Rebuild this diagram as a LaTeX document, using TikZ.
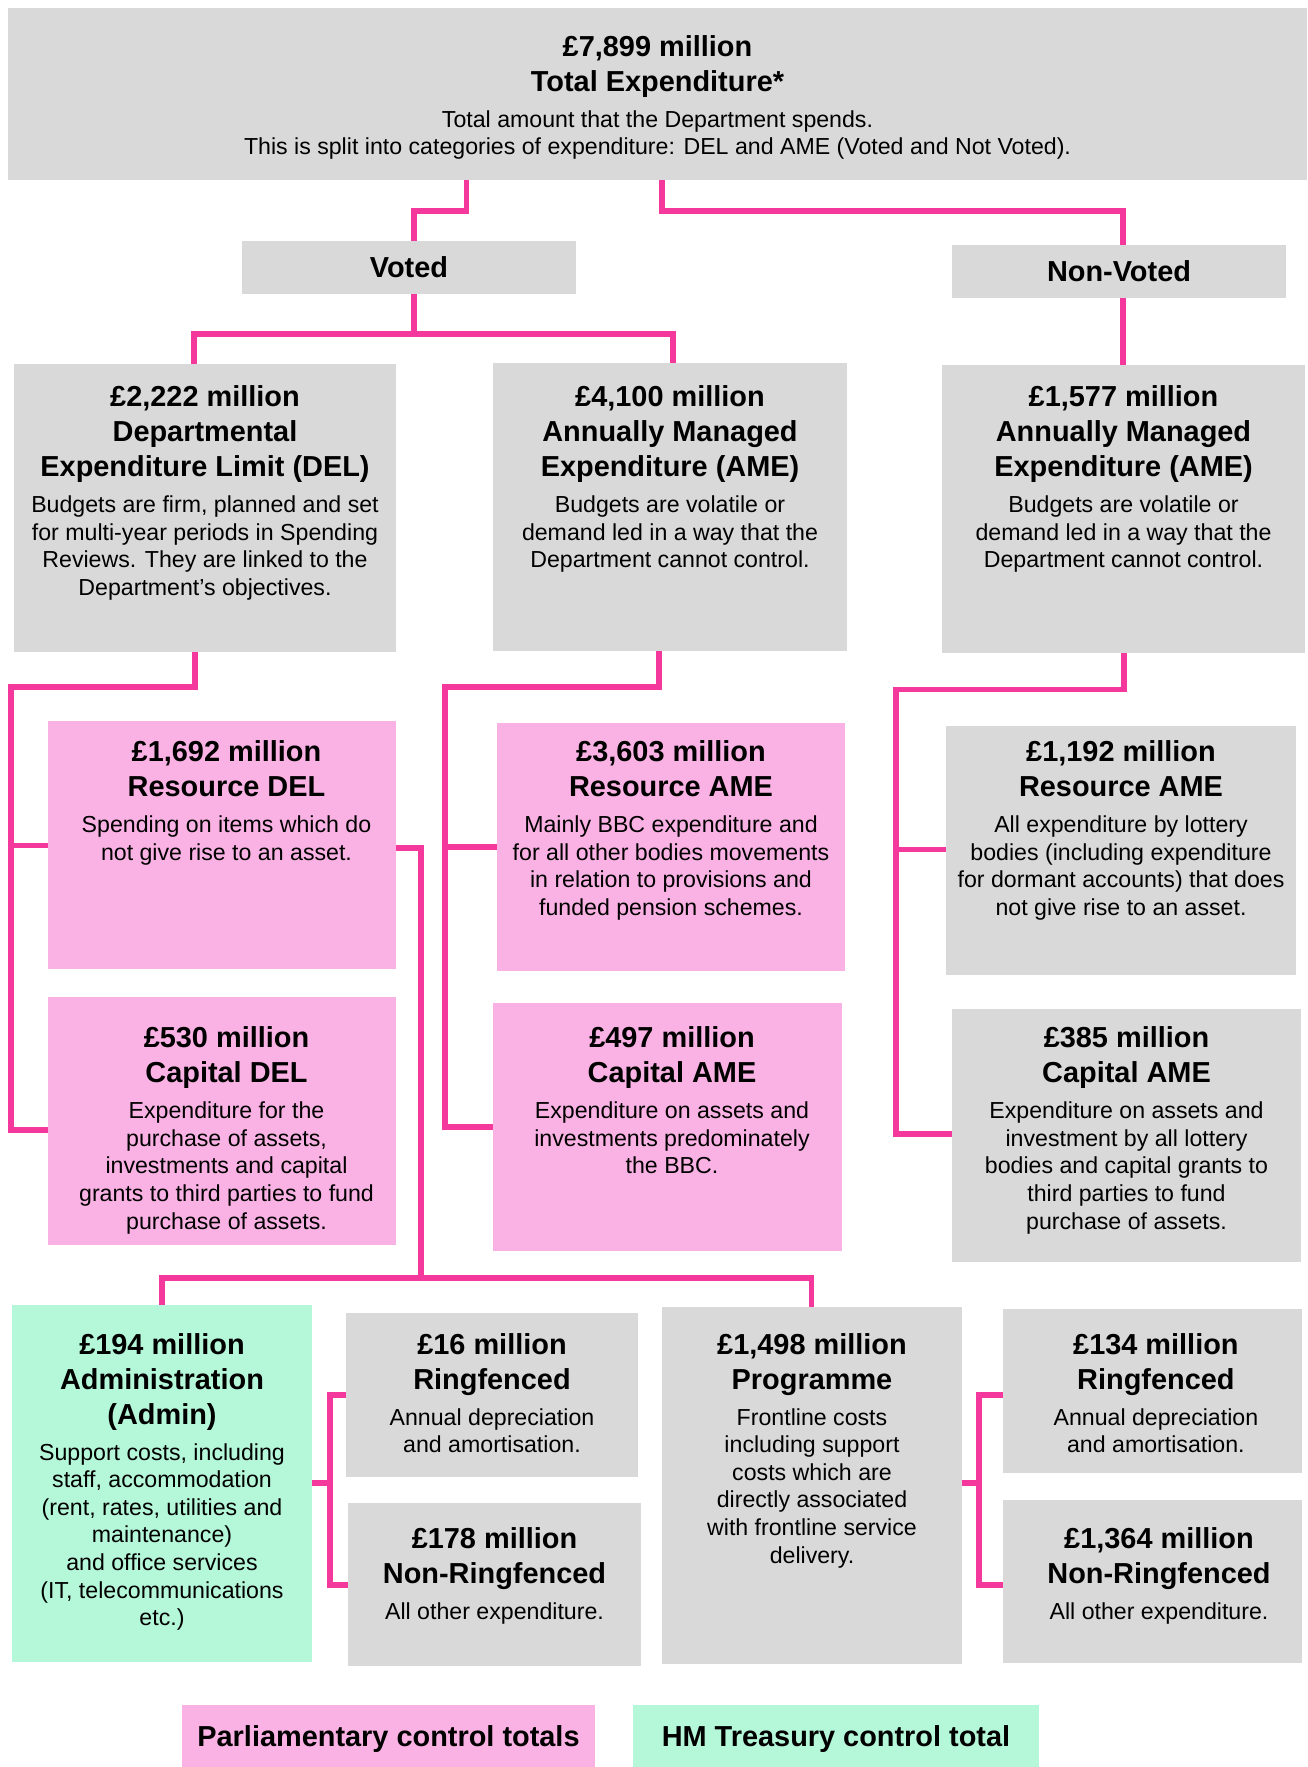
\documentclass[tikz,border=0pt]{standalone}
\usepackage{fontspec}
\setmainfont{Liberation Sans}
\definecolor{greyc}{RGB}{217,217,217}
\definecolor{pinkc}{RGB}{250,178,228}
\definecolor{mintc}{RGB}{181,247,217}
\definecolor{linec}{RGB}{245,56,155}
\newcommand\titlefont{\fontsize{28.9pt}{35pt}\selectfont\bfseries}
\newcommand\bodyfont{\fontsize{23.15pt}{27.6pt}\selectfont\mdseries}
\newcommand\txs{0pt}
\tikzset{
  boxst/.style={inner sep=0pt, outer sep=0pt, draw=none},
  conn/.style={draw=linec, line width=5.8pt, line join=miter},
  onebox/.style={boxst, anchor=north west, font=\titlefont, text height=20.6pt, text depth=0pt}
}
% name, x1, y1, x2, y2, fill, first baseline, title, body
\newcommand\tbox[9]{%
  \node[boxst, fill=#6, anchor=north west] (#1) at (#2,#3)
  {\parbox[t][\dimexpr#5pt-#3pt\relax][t]{\dimexpr#4pt-#2pt\relax}{%
    \lineskiplimit=-1000pt
    \vspace*{\dimexpr#7pt-#3pt-22pt\relax}%
    \centering\leftskip=\dimexpr\txs*2\relax plus 1fil\relax
    \titlefont\rule{0pt}{22pt}#8\par
    \vspace{8.4pt}%
    \bodyfont #9\par}};}
\begin{document}
\begin{tikzpicture}[x=1pt,y=-1pt]
\useasboundingbox (0,0) rectangle (1307,1767);
% ---- boxes
\tbox{top}{8}{8}{1307}{180}{greyc}{56}{£7,899 million\\Total Expenditure*}{Total amount that the Department spends.\\This is split into categories of expenditure: DEL and AME (Voted and Not Voted).}
\node[onebox, fill=greyc, minimum width=334pt, minimum height=53pt] (voted) at (242,241) {Voted};
\node[onebox, fill=greyc, minimum width=334pt, minimum height=53pt] (nonvoted) at (952,245) {Non-Voted};

\tbox{del}{14}{364}{396}{652}{greyc}{406.5}{£2,222 million\\Departmental\\Expenditure Limit (DEL)}{Budgets are firm, planned and set\\for multi-year periods in Spending\\Reviews. They are linked to the\\Department’s objectives.}
\tbox{amev}{493}{363}{847}{651}{greyc}{406.5}{£4,100 million\\Annually Managed\\Expenditure (AME)}{Budgets are volatile or\\demand led in a way that the\\Department cannot control.}
\tbox{amenv}{942}{365}{1305}{653}{greyc}{406.5}{£1,577 million\\Annually Managed\\Expenditure (AME)}{Budgets are volatile or\\demand led in a way that the\\Department cannot control.}

\renewcommand\txs{4.5pt}
\tbox{resdel}{48}{721}{396}{969}{pinkc}{761.5}{£1,692 million\\Resource DEL}{Spending on items which do\\not give rise to an asset.}
\tbox{capdel}{48}{997}{396}{1245}{pinkc}{1047.7}{£530 million\\Capital DEL}{Expenditure for the\\purchase of assets,\\investments and capital\\grants to third parties to fund\\purchase of assets.}
\renewcommand\txs{0pt}
\tbox{resame}{497}{723}{845}{971}{pinkc}{761.5}{£3,603 million\\Resource AME}{Mainly BBC expenditure and\\for all other bodies movements\\in relation to provisions and\\funded pension schemes.}
\renewcommand\txs{4.5pt}
\tbox{capame}{493}{1003}{842}{1251}{pinkc}{1047.7}{£497 million\\Capital AME}{Expenditure on assets and\\investments predominately\\the BBC.}
\renewcommand\txs{0pt}
\tbox{resnv}{946}{726}{1296}{975}{greyc}{761.5}{£1,192 million\\Resource AME}{All expenditure by lottery\\bodies (including expenditure\\for dormant accounts) that does\\not give rise to an asset.}
\tbox{capnv}{952}{1009}{1301}{1262}{greyc}{1047.7}{£385 million\\Capital AME}{Expenditure on assets and\\investment by all lottery\\bodies and capital grants to\\third parties to fund\\purchase of assets.}

\tbox{admin}{12}{1305}{312}{1662}{mintc}{1354}{£194 million\\Administration\\(Admin)}{Support costs, including\\staff, accommodation\\(rent, rates, utilities and\\maintenance)\\and office services\\(IT, telecommunications\\etc.)}
\tbox{ring1}{346}{1313}{638}{1477}{greyc}{1354}{£16 million\\Ringfenced}{Annual depreciation\\and amortisation.}
\tbox{nonring1}{348}{1503}{641}{1666}{greyc}{1548}{£178 million\\Non-Ringfenced}{All other expenditure.}
\tbox{prog}{662}{1307}{962}{1664}{greyc}{1354}{£1,498 million\\Programme}{Frontline costs\\including support\\costs which are\\directly associated\\with frontline service\\delivery.}
\renewcommand\txs{3.4pt}
\tbox{ring2}{1003}{1309}{1302}{1473}{greyc}{1354}{£134 million\\Ringfenced}{Annual depreciation\\and amortisation.}
\renewcommand\txs{6.5pt}
\tbox{nonring2}{1003}{1500}{1302}{1663}{greyc}{1548}{£1,364 million\\Non-Ringfenced}{All other expenditure.}
\renewcommand\txs{0pt}

\node[onebox, fill=pinkc, minimum width=413pt, minimum height=62pt] (leg1) at (182,1705) {Parliamentary control totals};
\node[onebox, fill=mintc, minimum width=406pt, minimum height=62pt] (leg2) at (633,1705) {HM Treasury control total};

% ---- connectors
\coordinate (a1) at (466.5,211); \coordinate (a2) at (414,211);
\draw[conn] (top.south -| a1) -- (a1) -- (a2) -- (voted.north -| a2);
\coordinate (b1) at (661.7,211); \coordinate (b2) at (1123,211);
\draw[conn] (top.south -| b1) -- (b1) -- (b2) -- (nonvoted.north -| b2);
\draw[conn] (nonvoted.south -| b2) -- (amenv.north -| b2);

\coordinate (v1) at (414,334); \coordinate (v2) at (194,334); \coordinate (v3) at (673,334);
\draw[conn] (voted.south -| v1) -- (v1);
\draw[conn] (del.north -| v2) -- (v2) -- (v3) -- (amev.north -| v3);

\coordinate (d1) at (195,687); \coordinate (d2) at (11,687); \coordinate (d3) at (11,1130); \coordinate (d4) at (11,845.5);
\draw[conn] (del.south -| d1) -- (d1) -- (d2) -- (d3) -- (capdel.west |- d3);
\draw[conn] (d4) -- (resdel.west |- d4);

\coordinate (e1) at (659,687); \coordinate (e2) at (445,687); \coordinate (e3) at (445,1127); \coordinate (e4) at (445,847);
\draw[conn] (amev.south -| e1) -- (e1) -- (e2) -- (e3) -- (capame.west |- e3);
\draw[conn] (e4) -- (resame.west |- e4);

\coordinate (f1) at (1124,689.5); \coordinate (f2) at (896,689.5); \coordinate (f3) at (896,1134); \coordinate (f4) at (896,849.5);
\draw[conn] (amenv.south -| f1) -- (f1) -- (f2) -- (f3) -- (capnv.west |- f3);
\draw[conn] (f4) -- (resnv.west |- f4);

\coordinate (g1) at (420.7,848); \coordinate (g2) at (420.7,1278); \coordinate (g3) at (161.6,1278); \coordinate (g4) at (811.5,1278);
\draw[conn] (resdel.east |- g1) -- (g1) -- (g2);
\draw[conn] (admin.north -| g3) -- (g3) -- (g4) -- (prog.north -| g4);

\coordinate (h1) at (330,1483); \coordinate (h2) at (330,1395); \coordinate (h3) at (330,1585);
\draw[conn] (admin.east |- h1) -- (h1);
\draw[conn] (ring1.west |- h2) -- (h2) -- (h3) -- (nonring1.west |- h3);

\coordinate (k1) at (979,1483); \coordinate (k2) at (979,1395); \coordinate (k3) at (979,1585);
\draw[conn] (prog.east |- k1) -- (k1);
\draw[conn] (ring2.west |- k2) -- (k2) -- (k3) -- (nonring2.west |- k3);
\end{tikzpicture}
\end{document}
